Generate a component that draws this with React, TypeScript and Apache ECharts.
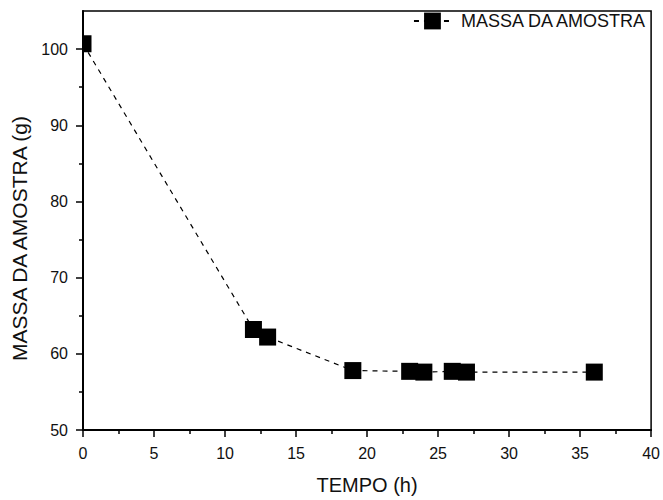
import React, { useEffect, useRef } from "react";
import * as echarts from "echarts";

const seriesName = "MASSA DA AMOSTRA";
const xAxisName = "TEMPO (h)";
const yAxisName = "MASSA DA AMOSTRA (g)";
const times = [0, 12, 13, 19, 23, 24, 26, 27, 36];
const mass = [100.7, 63.2, 62.2, 57.8, 57.7, 57.6, 57.7, 57.6, 57.6];
const yMajorTicks = [50, 60, 70, 80, 90, 100];
const yMinorTicks = [55, 65, 75, 85, 95];

const FONT = "'Liberation Sans', Arial, sans-serif";

export default function App() {
  const ref = useRef<HTMLDivElement>(null);
  useEffect(() => {
    if (!ref.current) return;
    const chart = echarts.init(ref.current, null, { renderer: "svg" });
    const points = times.map((t, i) => [t, mass[i]]);
    const SQ = 17;
    chart.setOption({
      animation: false,
      backgroundColor: "#fff",
      textStyle: { fontFamily: FONT },
      grid: {
        left: 83,
        right: 11,
        top: 11,
        bottom: 66,
        show: true,
        borderColor: "#000",
        borderWidth: 1.5,
        backgroundColor: "transparent",
      },
      legend: {
        data: [seriesName],
        right: 15,
        top: 12,
        padding: 0,
        itemWidth: 37,
        itemHeight: 21,
        textStyle: {
          fontFamily: FONT,
          fontSize: 18,
          color: "#111",
          padding: [0, 0, 0, 5],
        },
      },
      xAxis: {
        type: "value",
        min: 0,
        max: 40,
        interval: 5,
        name: xAxisName,
        nameLocation: "middle",
        nameGap: 45,
        nameTextStyle: { fontFamily: FONT, fontSize: 20, color: "#111" },
        axisLine: { show: true, onZero: false, lineStyle: { color: "#000", width: 2 } },
        axisTick: { show: true, inside: false, length: 7, lineStyle: { color: "#000", width: 1.5 } },
        minorTick: { show: true, splitNumber: 2, length: 4, lineStyle: { color: "#000", width: 1.5 } },
        axisLabel: { fontFamily: FONT, fontSize: 16, color: "#111", margin: 15 },
        splitLine: { show: false },
        minorSplitLine: { show: false },
      },
      yAxis: [
        {
          type: "value",
          min: 50,
          max: 105,
          name: yAxisName,
          nameLocation: "middle",
          nameGap: 52,
          nameRotate: 90,
          nameTextStyle: {
            fontFamily: FONT,
            fontSize: 21,
            color: "#111",
            padding: [0, 36, 0, 0],
          },
          axisLine: { show: true, onZero: false, lineStyle: { color: "#000", width: 2 } },
          axisTick: {
            show: true,
            inside: false,
            length: 7,
            customValues: yMajorTicks,
            lineStyle: { color: "#000", width: 1.5 },
          },
          axisLabel: {
            fontFamily: FONT,
            fontSize: 16,
            color: "#111",
            margin: 15,
            customValues: yMajorTicks,
          },
          splitLine: { show: false },
        },
        {
          type: "value",
          min: 50,
          max: 105,
          position: "left",
          axisLine: { show: false },
          axisTick: {
            show: true,
            inside: false,
            length: 4,
            customValues: yMinorTicks,
            lineStyle: { color: "#000", width: 1.5 },
          },
          axisLabel: { show: false },
          splitLine: { show: false },
        },
      ],
      series: [
        {
          name: seriesName,
          type: "line",
          data: points,
          symbol: "rect",
          showSymbol: false,
          color: "#000",
          itemStyle: { color: "#000" },
          lineStyle: { color: "#000", width: 1.2, type: [5, 5] },
          z: 2,
        },
        {
          name: "squares",
          type: "custom",
          data: points,
          z: 3,
          renderItem: (params: any, api: any) => {
            const p = api.coord([api.value(0), api.value(1)]);
            const cs = params.coordSys;
            const shape = echarts.graphic.clipRectByRect(
              { x: p[0] - SQ / 2, y: p[1] - SQ / 2, width: SQ, height: SQ },
              { x: cs.x, y: cs.y, width: cs.width, height: cs.height }
            );
            if (!shape) return null;
            return { type: "rect", shape, style: { fill: "#000" } };
          },
        },
      ],
    });
    return () => chart.dispose();
  }, []);
  return <div ref={ref} style={{ width: 663, height: 500, position: "absolute", left: 0, top: 0 }} />;
}
